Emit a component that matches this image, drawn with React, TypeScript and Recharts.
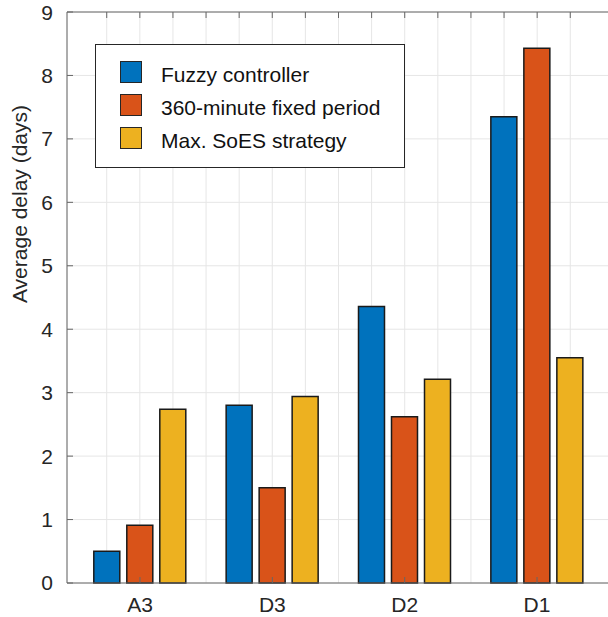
import { BarChart, Bar, XAxis, YAxis, CartesianGrid, Legend, Label } from 'recharts'

const categories = ['A3', 'D3', 'D2', 'D1']
const fuzzyController = [0.5, 2.8, 4.36, 7.35]
const fixedPeriod = [0.91, 1.5, 2.62, 8.43]
const maxSoesStrategy = [2.74, 2.94, 3.21, 3.55]

const seriesNames = ['Fuzzy controller', '360-minute fixed period', 'Max. SoES strategy']
const yTicks = [0, 1, 2, 3, 4, 5, 6, 7, 8, 9]
const minorTicks = [0.75, 1, 1.25, 1.5, 1.75, 2, 2.25, 2.5, 2.75, 3, 3.25, 3.5, 3.75, 4, 4.25]

const data = categories.map((name, i) => ({
  name,
  idx: i + 1,
  fuzzy: fuzzyController[i],
  fixed: fixedPeriod[i],
  soes: maxSoesStrategy[i],
}))

const FONT = '"Liberation Sans", Arial, Helvetica, sans-serif'
const AXIS = '#666666'
const TEXT = '#262626'
const GRID = '#e6e6e6'

// tick marks only, no labels
const noLabel = () => <g />

function renderLegend(props: any) {
  const payload = [...(props.payload || [])].sort(
    (a: any, b: any) => seriesNames.indexOf(a.value) - seriesNames.indexOf(b.value)
  )
  return (
    <div
      style={{
        width: 310,
        height: 124,
        boxSizing: 'border-box',
        border: '1px solid #262626',
        background: '#fff',
        paddingTop: 16,
        paddingLeft: 24,
        fontFamily: FONT,
      }}
    >
      {payload.map((entry: any) => (
        <div key={entry.value} style={{ display: 'flex', alignItems: 'flex-start', height: 33 }}>
          <div
            style={{
              width: 22,
              height: 22,
              boxSizing: 'border-box',
              border: '1px solid #262626',
              background: entry.color,
            }}
          />
          <span
            style={{
              marginLeft: 19,
              marginTop: 3,
              fontSize: 21,
              lineHeight: '22px',
              color: '#111',
              whiteSpace: 'nowrap',
            }}
          >
            {entry.value}
          </span>
        </div>
      ))}
    </div>
  )
}

export default function App() {
  const tickStyle = { fontSize: 21, fill: TEXT, fontFamily: FONT }
  return (
    <div style={{ position: 'absolute', left: 0, top: 0, width: 608, height: 617, overflow: 'hidden', background: '#fff' }}>
      <BarChart
        width={612}
        height={617}
        data={data}
        margin={{ top: 11, right: 1, bottom: 0, left: 0 }}
        barGap={7}
      >
        <CartesianGrid xAxisId="top" stroke={GRID} strokeWidth={1} />
        <XAxis
          xAxisId="cat"
          dataKey="name"
          height={34}
          padding={{ left: 6.8, right: 6.8 }}
          axisLine={{ stroke: AXIS }}
          tickSize={-6}
          tickLine={{ stroke: AXIS }}
          tickMargin={20}
          tick={tickStyle}
        />
        <XAxis
          xAxisId="top"
          orientation="top"
          type="number"
          dataKey="idx"
          domain={[0.45, 4.55]}
          ticks={minorTicks}
          allowDataOverflow
          height={1}
          tick={noLabel}
          tickSize={-6}
          tickLine={{ stroke: AXIS }}
          axisLine={{ stroke: AXIS }}
        />
        <YAxis
          domain={[0, 9]}
          ticks={yTicks}
          width={67}
          tickSize={-6}
          tickMargin={20}
          tick={tickStyle}
          tickLine={{ stroke: AXIS }}
          axisLine={{ stroke: AXIS }}
        >
          <Label
            content={() => (
              <text
                x={27}
                y={204}
                transform="rotate(-90 27 204)"
                textAnchor="middle"
                fontSize={21}
                fontFamily={FONT}
                fill={TEXT}
              >
                Average delay (days)
              </text>
            )}
          />
        </YAxis>
        <YAxis
          yAxisId="right"
          orientation="right"
          domain={[0, 9]}
          ticks={yTicks}
          width={1}
          tick={noLabel}
          tickSize={-6}
          tickLine={{ stroke: AXIS }}
          axisLine={{ stroke: AXIS }}
        />
        <Legend
          layout="vertical"
          align="center"
          verticalAlign="middle"
          wrapperStyle={{ top: 44, left: 95, width: 310, height: 124 }}
          content={renderLegend}
        />
        <Bar xAxisId="cat" dataKey="fuzzy" name={seriesNames[0]} fill="#0072BD" stroke="#1a1a1a" strokeWidth={1.5} barSize={26} isAnimationActive={false} />
        <Bar xAxisId="cat" dataKey="fixed" name={seriesNames[1]} fill="#D95319" stroke="#1a1a1a" strokeWidth={1.5} barSize={26} isAnimationActive={false} />
        <Bar xAxisId="cat" dataKey="soes" name={seriesNames[2]} fill="#EDB120" stroke="#1a1a1a" strokeWidth={1.5} barSize={26} isAnimationActive={false} />
      </BarChart>
    </div>
  )
}
